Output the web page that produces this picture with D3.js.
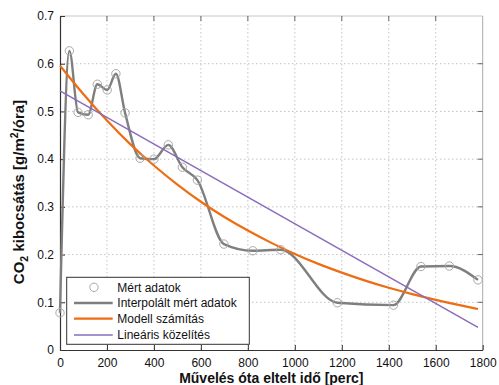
<!DOCTYPE html>
<html><head><meta charset="utf-8">
<script src="https://cdn.jsdelivr.net/npm/d3@7"></script>
<style>body{margin:0;background:#fff}svg{display:block;font-family:"Liberation Sans",Arial,sans-serif}</style>
</head><body><svg id="c" width="499" height="385"></svg>
<script>
// measured data
const measT = [0, 40, 77, 120, 159, 201, 238, 277, 341, 400, 461, 521, 585, 698, 821, 940, 1181, 1420, 1537, 1658, 1780];
const measV = [0.078, 0.627, 0.498, 0.493, 0.557, 0.545, 0.579, 0.497, 0.402, 0.400, 0.430, 0.383, 0.356, 0.222, 0.208, 0.210, 0.099, 0.094, 0.175, 0.176, 0.147];
// model curve
const modelT = [0, 100, 200, 300, 400, 500, 600, 700, 800, 900, 1000, 1100, 1200, 1300, 1400, 1500, 1600, 1700, 1780];
const modelV = [0.596, 0.535, 0.480, 0.430, 0.386, 0.346, 0.310, 0.278, 0.250, 0.224, 0.201, 0.180, 0.162, 0.145, 0.130, 0.117, 0.105, 0.094, 0.086];
// linear approximation
const linT = [0, 1780];
const linV = [0.543, 0.0475];
const xTicks = [0, 200, 400, 600, 800, 1000, 1200, 1400, 1600, 1800];
const yTicks = [0, 0.1, 0.2, 0.3, 0.4, 0.5, 0.6, 0.7];
const legendLabels = ["Mért adatok", "Interpolált mért adatok", "Modell számítás", "Lineáris közelítés"];

const svg = d3.select("#c");
const L = 60, R = 482.7, T = 16, B = 350;
const x = d3.scaleLinear().domain([0, 1800]).range([L, R]);
const y = d3.scaleLinear().domain([0, 0.7]).range([B, T]);

// grid
const g = svg.append("g");
g.selectAll(".gx").data(xTicks.slice(1, -1)).enter().append("line")
  .attr("x1", d => x(d)).attr("x2", d => x(d)).attr("y1", T).attr("y2", B)
  .attr("stroke", "#c4c4c4").attr("stroke-width", 1).attr("stroke-dasharray", "1.5,2.5");
g.selectAll(".gy").data(yTicks.slice(1, -1)).enter().append("line")
  .attr("y1", d => y(d)).attr("y2", d => y(d)).attr("x1", L).attr("x2", R)
  .attr("stroke", "#c4c4c4").attr("stroke-width", 1).attr("stroke-dasharray", "1.5,2.5");

// frame top/right
svg.append("line").attr("x1", L).attr("x2", R).attr("y1", T).attr("y2", T).attr("stroke", "#c8c8c8");
svg.append("line").attr("x1", R).attr("x2", R).attr("y1", T).attr("y2", B).attr("stroke", "#aaa");
// top and right inner ticks
svg.append("g").selectAll("line").data(xTicks.slice(1, -1)).enter().append("line")
  .attr("x1", d => x(d)).attr("x2", d => x(d)).attr("y1", T).attr("y2", T + 5).attr("stroke", "#666");
svg.append("g").selectAll("line").data(yTicks.slice(1, -1)).enter().append("line")
  .attr("y1", d => y(d)).attr("y2", d => y(d)).attr("x1", R).attr("x2", R - 5).attr("stroke", "#666");

// axes
const xAxis = svg.append("g").attr("transform", `translate(0,${B})`)
  .call(d3.axisBottom(x).tickValues(xTicks).tickFormat(d3.format("d")).tickSizeInner(-5).tickSizeOuter(0).tickPadding(8));
const yAxis = svg.append("g").attr("transform", `translate(${L},0)`)
  .call(d3.axisLeft(y).tickValues(yTicks).tickFormat(d => d === 0 ? "0" : d3.format(".1f")(d)).tickSizeInner(-5).tickSizeOuter(0).tickPadding(6));
[xAxis, yAxis].forEach(a => {
  a.select(".domain").attr("stroke", "#333").attr("stroke-width", 1.2);
  a.selectAll(".tick line").attr("stroke", "#333");
  a.selectAll("text").attr("font-size", 12).attr("fill", "#111").attr("font-family", "Liberation Sans, Arial, sans-serif");
});

// series
const pts = measT.map((t, i) => [t, measV[i]]);
svg.append("path").datum(pts)
  .attr("d", d3.line().x(d => x(d[0])).y(d => y(d[1])).curve(d3.curveMonotoneX))
  .attr("fill", "none").attr("stroke", "#7f7f7f").attr("stroke-width", 2.4);
svg.append("path").datum(modelT.map((t, i) => [t, modelV[i]]))
  .attr("d", d3.line().x(d => x(d[0])).y(d => y(d[1])).curve(d3.curveBasis))
  .attr("fill", "none").attr("stroke", "#ee6d12").attr("stroke-width", 2.2);
svg.append("path").datum(linT.map((t, i) => [t, linV[i]]))
  .attr("d", d3.line().x(d => x(d[0])).y(d => y(d[1])))
  .attr("fill", "none").attr("stroke", "#8a6cbc").attr("stroke-width", 1.5);
svg.append("g").selectAll("circle").data(pts).enter().append("circle")
  .attr("cx", d => x(d[0])).attr("cy", d => y(d[1])).attr("r", 4.2)
  .attr("fill", "none").attr("stroke", "#a8a8a8").attr("stroke-width", 1);

// legend
const lg = svg.append("g");
lg.append("rect").attr("x", 66.7).attr("y", 277.3).attr("width", 182.6).attr("height", 67)
  .attr("fill", "#fff").attr("stroke", "#333").attr("stroke-width", 1);
const rowsY = [287.3, 303, 318.7, 335];
const styles = [null, ["#7f7f7f", 2.4], ["#ee6d12", 2.2], ["#8a6cbc", 1.5]];
legendLabels.forEach((lab, i) => {
  if (i === 0) {
    lg.append("circle").attr("cx", 94).attr("cy", rowsY[i]).attr("r", 4.2)
      .attr("fill", "none").attr("stroke", "#a8a8a8");
  } else {
    lg.append("line").attr("x1", 74).attr("x2", 112.7).attr("y1", rowsY[i]).attr("y2", rowsY[i])
      .attr("stroke", styles[i][0]).attr("stroke-width", styles[i][1]);
  }
  lg.append("text").attr("x", 117.3).attr("y", rowsY[i]).attr("dy", "0.35em")
    .attr("font-size", 12).attr("fill", "#111").text(lab);
});

// axis titles
svg.append("text").attr("x", (L + R) / 2).attr("y", 383).attr("text-anchor", "middle")
  .attr("font-size", 14).attr("font-weight", "bold").attr("fill", "#111")
  .text("Művelés óta eltelt idő [perc]");
const yl = svg.append("text").attr("transform", `translate(24,192) rotate(-90)`)
  .attr("text-anchor", "middle").attr("font-size", 15).attr("font-weight", "bold").attr("fill", "#111");
yl.append("tspan").text("CO");
yl.append("tspan").attr("font-size", 10.5).attr("dy", 4).text("2");
yl.append("tspan").attr("dy", -4).text(" kibocsátás [g/m");
yl.append("tspan").attr("font-size", 10.5).attr("dy", -6).text("2");
yl.append("tspan").attr("dy", 6).text("/óra]");
</script></body></html>
